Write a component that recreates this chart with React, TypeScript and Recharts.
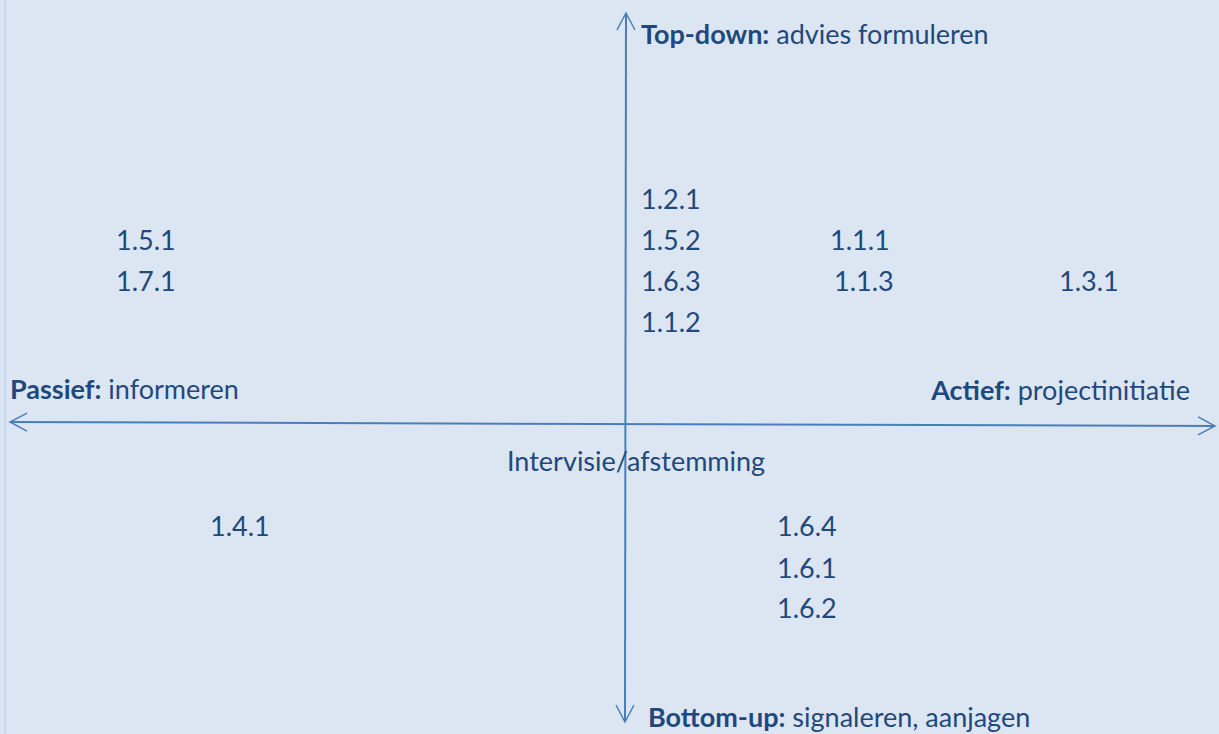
import React from 'react';
import { ScatterChart, Scatter, XAxis, YAxis, ReferenceLine } from 'recharts';

// Quadrant diagram: x = passive (-) .. active (+), y = bottom-up (-) .. top-down (+)
const xDomain: [number, number] = [-10.4333, 9.8833];
const yDomain: [number, number] = [-7.75, 10.6];

// Axis end points
const horizontalAxis = [{ x: -10.267, y: 0.05 }, { x: 9.817, y: -0.05 }];
const verticalAxis = [{ x: 0, y: 10.275 }, { x: -0.017, y: -7.45 }];

// Axis titles: bold part, regular part
const axisTitles = [
  { bold: 'Top-down:', rest: ' advies formuleren', x: 0.25, y: 9.5, anchor: 'start' },
  { bold: 'Passief:', rest: ' informeren', x: -10.267, y: 0.625, anchor: 'start' },
  { bold: 'Actief:', rest: ' projectinitiatie', x: 9.4, y: 0.6, anchor: 'end' },
  { bold: 'Bottom-up:', rest: ' signaleren, aanjagen', x: 0.367, y: -7.575, anchor: 'start' },
];

const centerLabels = [
  { text: 'Intervisie/afstemming', x: -1.983, y: -1.175 },
];

// Activity codes per quadrant
const topLeftCodes = [
  { text: '1.5.1', x: -8.5, y: 4.35 },
  { text: '1.7.1', x: -8.5, y: 3.325 },
];
const topCenterCodes = [
  { text: '1.2.1', x: 0.25, y: 5.375 },
  { text: '1.5.2', x: 0.25, y: 4.35 },
  { text: '1.6.3', x: 0.25, y: 3.325 },
  { text: '1.1.2', x: 0.25, y: 2.3 },
];
const topRightCodes = [
  { text: '1.1.1', x: 3.4, y: 4.35 },
  { text: '1.1.3', x: 3.467, y: 3.325 },
  { text: '1.3.1', x: 7.217, y: 3.325 },
];
const bottomLeftCodes = [
  { text: '1.4.1', x: -6.933, y: -2.8 },
];
const bottomRightCodes = [
  { text: '1.6.4', x: 2.517, y: -2.8 },
  { text: '1.6.1', x: 2.517, y: -3.85 },
  { text: '1.6.2', x: 2.517, y: -4.85 },
];

const TEXT_COLOR = '#1F497D';
const LINE_COLOR = '#4A7EBB';
const FONT = 'Lato, "Open Sans", sans-serif';
const FONT_SIZE = 27;

const CodeShape = (props: any) => {
  const { cx, cy, payload } = props;
  return (
    <text x={cx} y={cy} fill={TEXT_COLOR} fontFamily={FONT} fontSize={FONT_SIZE} textAnchor="start">
      {payload.text}
    </text>
  );
};

const TitleShape = (props: any) => {
  const { cx, cy, payload } = props;
  return (
    <text x={cx} y={cy} fill={TEXT_COLOR} fontFamily={FONT} fontSize={FONT_SIZE} textAnchor={payload.anchor}>
      <tspan fontWeight="bold">{payload.bold}</tspan>
      <tspan xmlSpace="preserve">{payload.rest}</tspan>
    </text>
  );
};

const arrowLine = (props: any) => {
  const { x1, y1, x2, y2 } = props;
  const dx = x2 - x1;
  const dy = y2 - y1;
  const len = Math.sqrt(dx * dx + dy * dy) || 1;
  const ux = dx / len;
  const uy = dy / len;
  const px = -uy;
  const py = ux;
  const L = 17;
  const W = 9;
  const head = (tx: number, ty: number, dirx: number, diry: number) =>
    `M${tx - dirx * L + px * W},${ty - diry * L + py * W} L${tx},${ty} L${tx - dirx * L - px * W},${ty - diry * L - py * W}`;
  return (
    <g>
      <line x1={x1} y1={y1} x2={x2} y2={y2} stroke={LINE_COLOR} strokeWidth={2} />
      <path d={head(x2, y2, ux, uy)} fill="none" stroke={LINE_COLOR} strokeWidth={1.5} />
      <path d={head(x1, y1, -ux, -uy)} fill="none" stroke={LINE_COLOR} strokeWidth={1.5} />
    </g>
  );
};

export default function App() {
  return (
    <div
      style={{
        position: 'absolute',
        left: 0,
        top: 0,
        width: 1219,
        height: 734,
        background: '#DCE6F2',
        overflow: 'hidden',
      }}
    >
      <div style={{ position: 'absolute', left: 4, top: 0, width: 2, height: 734, background: '#C8D7EB' }} />
      <ScatterChart width={1219} height={734} margin={{ top: 0, right: 0, bottom: 0, left: 0 }}>
        <XAxis type="number" dataKey="x" domain={xDomain} hide allowDataOverflow />
        <YAxis type="number" dataKey="y" domain={yDomain} hide allowDataOverflow />
        <ReferenceLine
          segment={horizontalAxis}
          ifOverflow="visible"
          shape={arrowLine}
        />
        <ReferenceLine
          segment={verticalAxis}
          ifOverflow="visible"
          shape={arrowLine}
        />
        <Scatter data={axisTitles} shape={TitleShape} isAnimationActive={false} />
        <Scatter data={centerLabels} shape={CodeShape} isAnimationActive={false} />
        <Scatter data={topLeftCodes} shape={CodeShape} isAnimationActive={false} />
        <Scatter data={topCenterCodes} shape={CodeShape} isAnimationActive={false} />
        <Scatter data={topRightCodes} shape={CodeShape} isAnimationActive={false} />
        <Scatter data={bottomLeftCodes} shape={CodeShape} isAnimationActive={false} />
        <Scatter data={bottomRightCodes} shape={CodeShape} isAnimationActive={false} />
      </ScatterChart>
    </div>
  );
}
